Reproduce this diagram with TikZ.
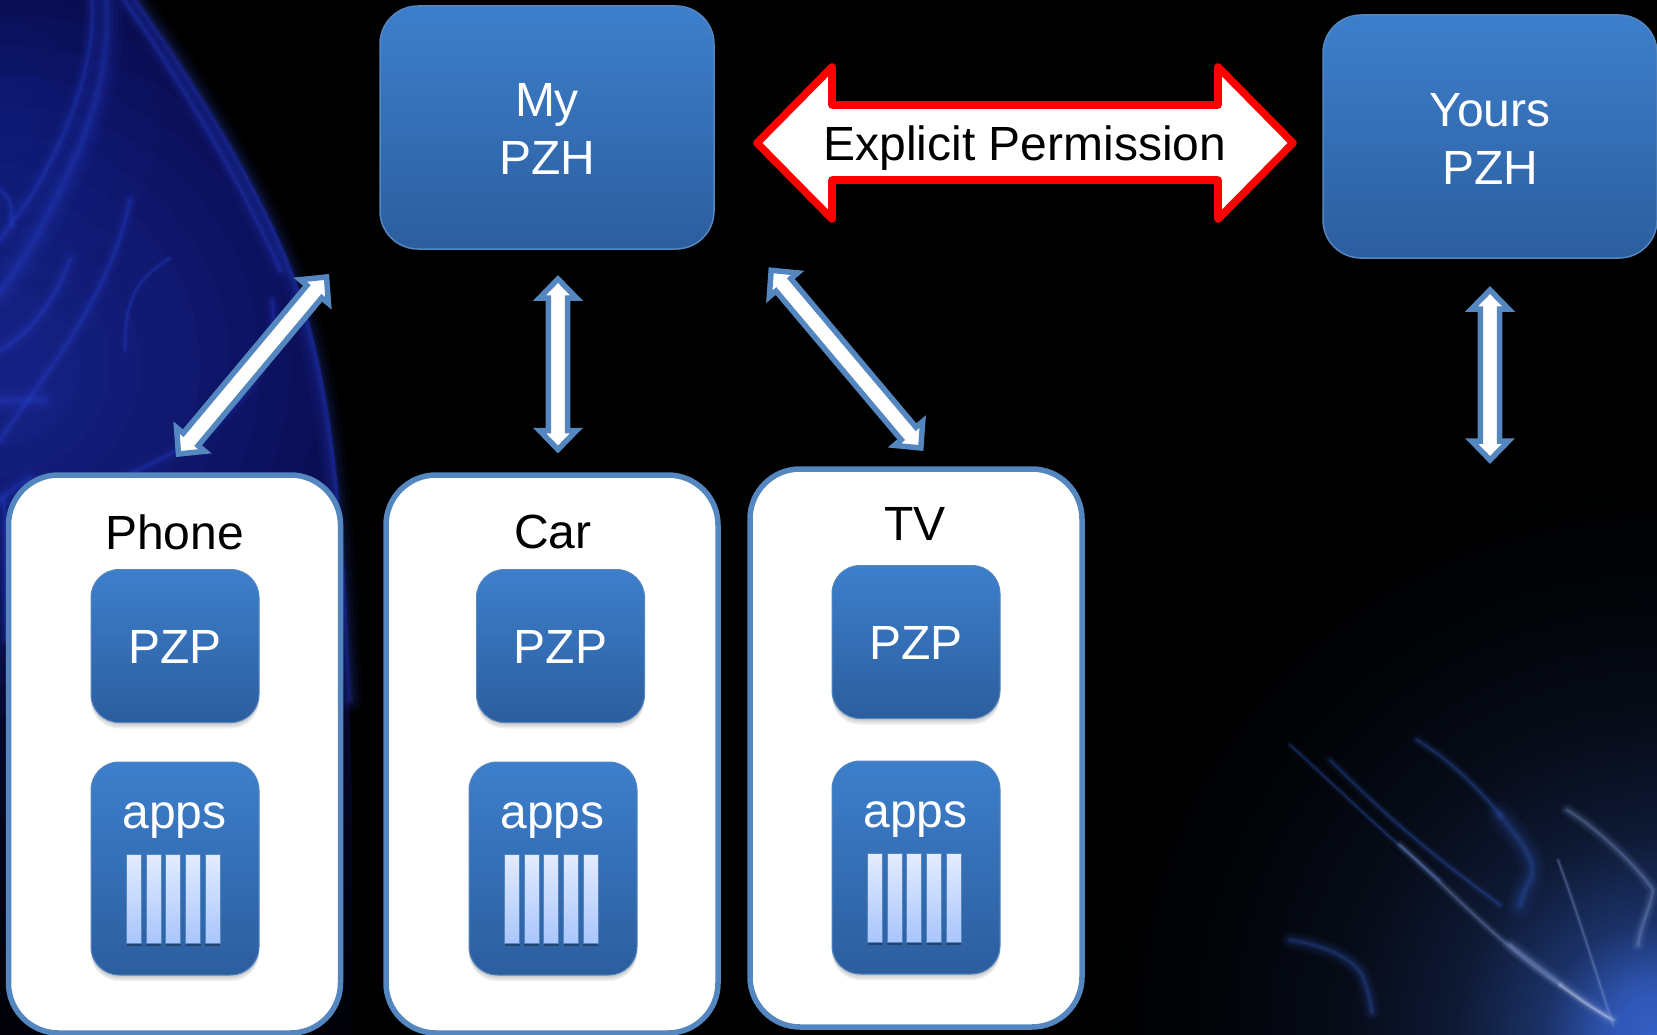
\documentclass[tikz,border=0pt]{standalone}
\usepackage{fontspec}
\setmainfont{Liberation Sans}
\usetikzlibrary{calc,shadows}
\definecolor{boxtop}{HTML}{3D7FCC}
\definecolor{boxbot}{HTML}{2C5E9E}
\definecolor{edgeblue}{HTML}{5486C0}
\definecolor{navyA}{HTML}{0A0C4E}
\definecolor{smoke}{HTML}{2A44D0}
\definecolor{smokeB}{HTML}{3560C8}
\definecolor{paleS}{HTML}{8FA8E0}
\definecolor{bartop}{HTML}{E3ECFF}
\definecolor{barbot}{HTML}{A9C5FC}
\pgfdeclareverticalshading{navyfade}{100bp}{color(0bp)=(black);color(22bp)=(black);color(38bp)=(black!55!navyA);color(52bp)=(navyA);color(100bp)=(navyA)}
\pgfdeclareradialshading{cornerglow}{\pgfpoint{0bp}{0bp}}{color(0bp)=(smokeB);color(2.5bp)=(smokeB!85!black);color(5bp)=(smokeB!52!black);color(9bp)=(smokeB!26!black);color(14bp)=(smokeB!12!black);color(20bp)=(smokeB!4!black);color(25bp)=(black);color(50bp)=(black)}
\newcommand\glowpath[3]{%
  \foreach \w/\o in {22/.06,15/.08,9/.11,5/.14,2.5/.12}{%
    \draw[#1,line width=#2*\w pt,opacity=\o,line cap=round] #3;}}
\newcommand\dblarrow[2]{\draw[bluearrow] (#1)
  -- ($(#1)!19pt!(#2)!18.5pt!90:(#2)$) -- ($(#1)!19pt!(#2)!9.7pt!90:(#2)$)
  -- ($(#2)!19pt!(#1)!9.7pt!-90:(#1)$) -- ($(#2)!19pt!(#1)!18.5pt!-90:(#1)$)
  -- (#2)
  -- ($(#2)!19pt!(#1)!18.5pt!90:(#1)$) -- ($(#2)!19pt!(#1)!9.7pt!90:(#1)$)
  -- ($(#1)!19pt!(#2)!9.7pt!-90:(#2)$) -- ($(#1)!19pt!(#2)!18.5pt!-90:(#2)$)
  -- cycle;}
\tikzset{
  label48/.style={font=\fontsize{48}{58}\selectfont,inner sep=0pt,align=center},
  hubbox/.style={draw=edgeblue,line width=1.5pt,rounded corners=38pt,top color=boxtop,bottom color=boxbot,
    minimum width=334pt,minimum height=243pt},
  hubtext/.style={label48,text=white},
  softlift/.style={general shadow={fill=black,opacity=.07,shadow yshift=-2pt},
    general shadow={fill=black,opacity=.07,shadow yshift=-4pt},
    general shadow={fill=black,opacity=.07,shadow yshift=-6pt}},
  holder/.style={draw=edgeblue,line width=5.5pt,fill=white,rounded corners=50pt,minimum width=332pt,minimum height=558pt},
  pzpbox/.style={softlift,draw=edgeblue,line width=1pt,rounded corners=28pt,top color=boxtop,bottom color=boxbot,
    minimum width=168pt,minimum height=153pt,text=white,label48,text height=34.5pt,text depth=0pt},
  appbox/.style={softlift,draw=edgeblue,line width=1pt,rounded corners=28pt,top color=boxtop,bottom color=boxbot,
    minimum width=168pt,minimum height=213pt},
  barbox/.style={draw=edgeblue,line width=1pt,top color=bartop,bottom color=barbot,
    minimum width=15pt,minimum height=89.5pt,inner sep=0pt,
    general shadow={fill=black,opacity=.3,shadow yshift=-2.5pt}},
  bluearrow/.style={draw=edgeblue,fill=white,line width=5.5pt,miter limit=10},
  redarrow/.style={draw=red,fill=white,line width=7.6pt,line join=round},
  holdertext/.style={label48,text=black,anchor=base},
  appstext/.style={label48,text=white,anchor=base},
}
\begin{document}
\begin{tikzpicture}[x=1pt,y=-1pt]
\useasboundingbox (0,0) rectangle (1657,1035);
\begin{scope}
\clip (0,0) rectangle (1657,1035);
\fill[black] (0,0) rectangle (1657,1035);
% left smoke
\begin{scope}
\path[clip] (136,0) .. controls (200,90) and (260,190) .. (292,270) .. controls (322,350) and (338,440) .. (347,610) -- (352,800) -- (352,1035) -- (0,1035) -- (0,0) -- cycle;
\shade[shading=navyfade] (0,0) rectangle (352,1035);
\foreach \r in {50,80,...,350}{\fill[smoke,opacity=.05] (0,365) circle[radius=\r];}
\foreach \r in {40,70,...,160}{\fill[smoke,opacity=.03] (0,120) circle[radius=\r];}
\end{scope}
\glowpath{smoke}{1.2}{(136,0) .. controls (200,90) and (260,190) .. (290,270) .. controls (320,350) and (336,440) .. (345,610) .. controls (347,650) and (348,670) .. (350,700)}
\glowpath{smoke}{.8}{(124,0) .. controls (180,80) and (240,180) .. (280,270)}
\glowpath{smoke}{1.5}{(106,0) .. controls (112,80) and (82,150) .. (45,220) .. controls (30,250) and (15,272) .. (0,292)}
\glowpath{smoke}{.8}{(92,0) .. controls (96,60) and (70,130) .. (35,190) .. controls (22,210) and (10,225) .. (0,240)}
\glowpath{smoke}{.7}{(0,440) .. controls (40,380) and (110,300) .. (130,200)}
\glowpath{smoke}{1.2}{(0,402) .. controls (15,398) and (30,402) .. (45,400)}
\glowpath{smoke}{.8}{(0,350) .. controls (30,335) and (55,300) .. (70,260)}
\glowpath{smoke}{.6}{(272,300) .. controls (280,350) and (250,400) .. (200,435) .. controls (180,450) and (150,465) .. (120,478)}
\glowpath{smoke}{.35}{(170,258) .. controls (135,280) and (125,300) .. (125,350)}
\glowpath{smoke}{.5}{(0,190) .. controls (15,200) and (10,215) .. (12,225)}
\glowpath{smoke}{.8}{(0,500) .. controls (10,490) and (20,485) .. (30,478)}
\glowpath{smoke}{.6}{(6,640) .. controls (4,610) and (6,560) .. (4,500)}
% right smoke
\shade[shading=cornerglow] (1657,1035) circle[radius=560];
\glowpath{smokeB}{.3}{(1290,745) .. controls (1340,790) and (1390,840) .. (1440,880)}
\glowpath{paleS}{.45}{(1400,845) .. controls (1450,890) and (1500,945) .. (1560,985)}
\glowpath{paleS}{.7}{(1510,945) .. controls (1550,975) and (1580,1000) .. (1613,1020)}
\glowpath{smokeB}{.4}{(1330,760) .. controls (1400,830) and (1440,860) .. (1500,905)}
\glowpath{white}{.3}{(1560,985) .. controls (1580,1000) and (1595,1010) .. (1613,1020)}
\glowpath{smokeB}{.5}{(1417,740) .. controls (1450,760) and (1480,790) .. (1500,815)}
\glowpath{smokeB}{1.2}{(1500,815) .. controls (1515,835) and (1540,860) .. (1530,880) .. controls (1525,890) and (1522,895) .. (1520,905)}
\glowpath{paleS}{.6}{(1567,810) .. controls (1600,830) and (1640,870) .. (1653,890) .. controls (1650,910) and (1642,920) .. (1638,945)}
\glowpath{paleS}{.25}{(1558,860) .. controls (1580,920) and (1595,970) .. (1613,1025)}
\glowpath{smokeB}{.8}{(1290,940) .. controls (1320,945) and (1350,955) .. (1362,975) .. controls (1368,990) and (1370,1000) .. (1372,1012)}
\glowpath{smokeB}{1.6}{(1657,1000) .. controls (1640,990) and (1625,1005) .. (1620,1035)}
\end{scope}

% holders
\node[holder] (phone) at (174.5,754) {};
\node[holder] (car) at (552,754) {};
\node[holder] (tv) at (916,748) {};
\node[holdertext] (phoneT) at (174.5,549) {Phone};
\node[holdertext] (carT) at (553,548) {Car};
\node[holdertext] (tvT) at (915,540) {TV};

% PZP
\node[pzpbox] (pzpA) at (175,646) {PZP};
\node[pzpbox] (pzpB) at (560.5,646) {PZP};
\node[pzpbox] (pzpC) at (916,642) {PZP};

% apps
\node[appbox] (appA) at (175,868.5) {};
\node[appbox] (appB) at (553,868.5) {};
\node[appbox] (appC) at (916,867.5) {};
\node[appstext] (appAT) at (174.5,828) {apps};
\node[appstext] (appBT) at (552.5,828) {apps};
\node[appstext] (appCT) at (915.5,827) {apps};
\foreach \i in {0,...,4}{
  \node[barbox] (barA\i) at (134+19.7*\i,899) {};
  \node[barbox] (barB\i) at (512+19.7*\i,899) {};
  \node[barbox] (barC\i) at (875+19.7*\i,898) {};
}

% hubs
\node[hubbox] (myhub) at (547,127.5) {};
\node[hubbox] (yourhub) at (1490,136.5) {};
\node[hubtext] (myhubT) at (547,129) {My\\PZH};
\node[hubtext] (yourhubT) at (1490,138.5) {Yours\\PZH};

% red arrow
\coordinate (rL) at (757,143);
\coordinate (rR) at (1293,143);
\draw[redarrow] (rL) -- (832,67) -- (832,105) -- (1218,105) -- (1218,67) -- (rR) -- (1218,219) -- (1218,180) -- (832,180) -- (832,219) -- cycle;
\node[label48,text=black,anchor=base] (perm) at (1025,161) {Explicit Permission};

% connectors
\coordinate (a1) at (326.5,277);
\coordinate (a2) at (178.5,454);
\coordinate (b1) at (558,279);
\coordinate (b2) at (558,449.5);
\coordinate (c1) at (771.2,270.3);
\coordinate (c2) at (920.8,448);
\coordinate (d1) at (1490,290);
\coordinate (d2) at (1490,460);
\dblarrow{a1}{a2}
\dblarrow{b1}{b2}
\dblarrow{c1}{c2}
\dblarrow{d1}{d2}
\end{tikzpicture}
\end{document}
